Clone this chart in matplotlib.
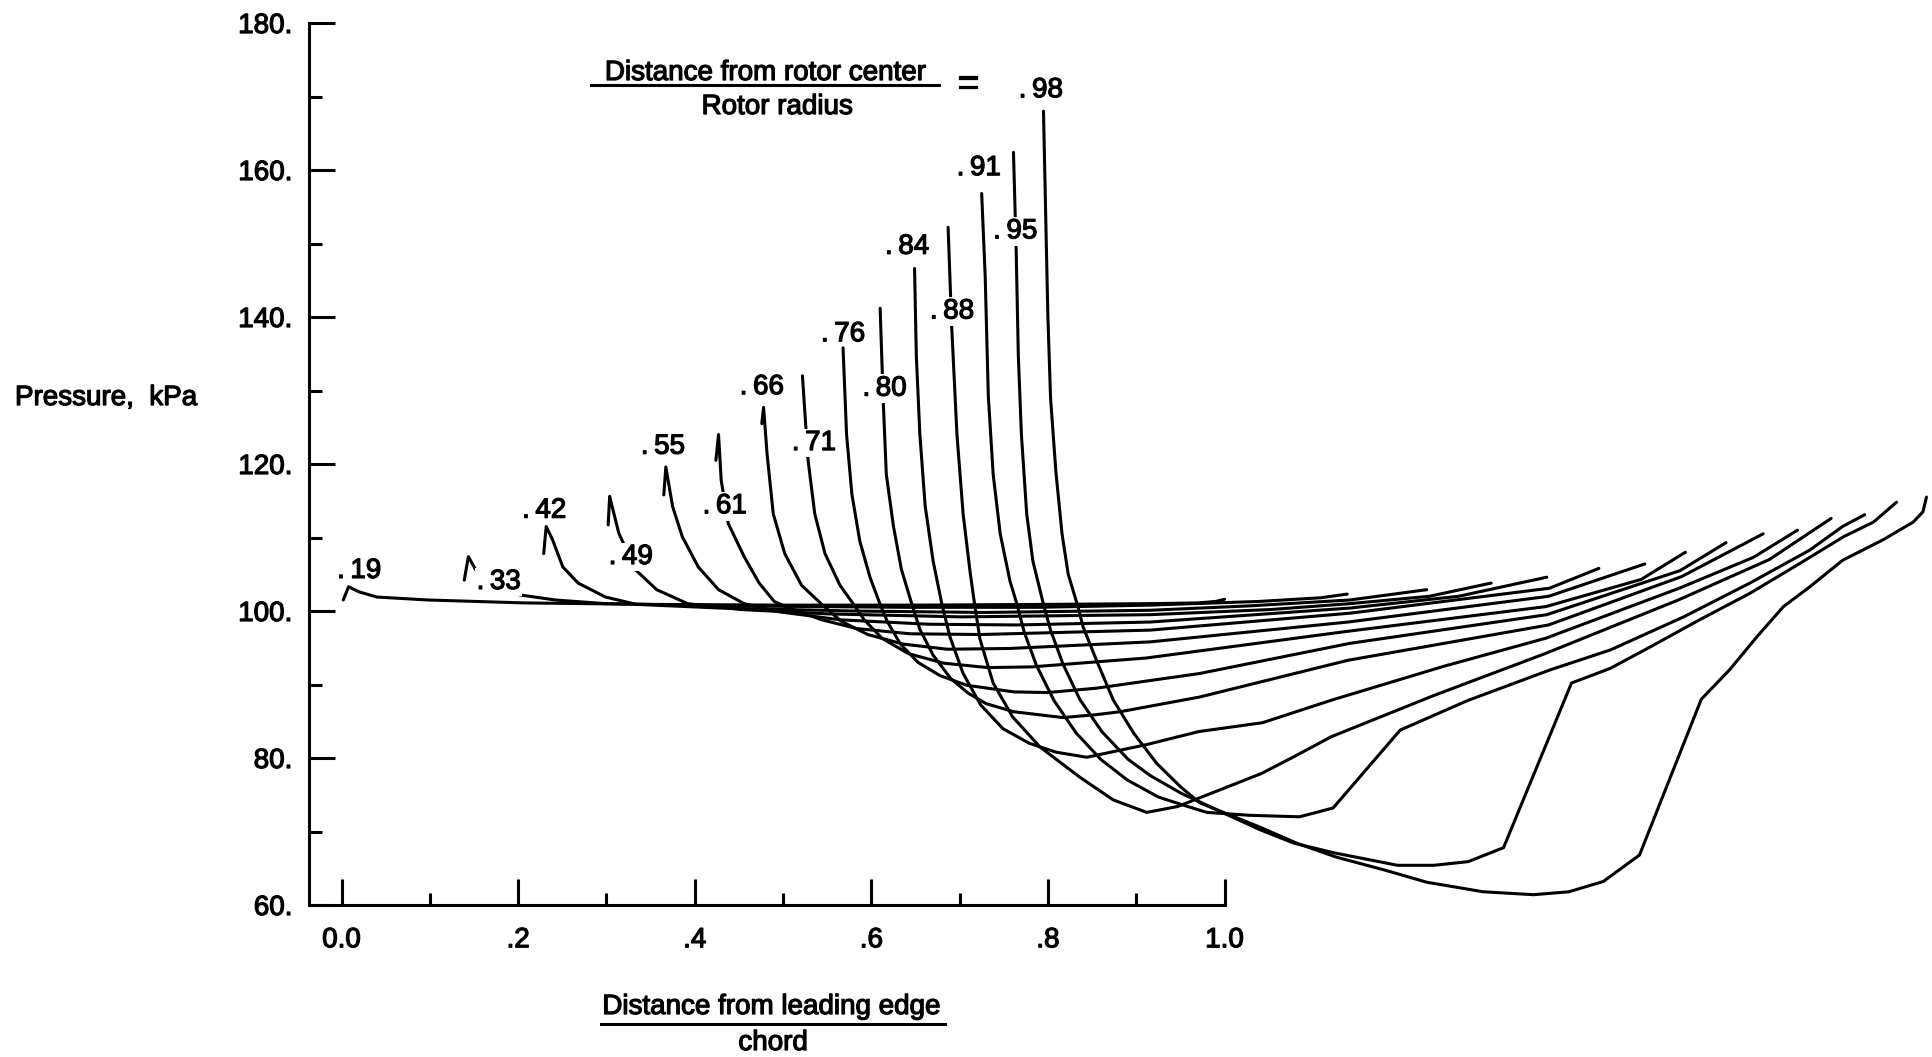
import matplotlib
matplotlib.use("Agg")
import matplotlib.pyplot as plt
import matplotlib.patheffects as pe
from matplotlib.lines import Line2D

plt.rcParams['font.family'] = ['Liberation Sans', 'DejaVu Sans']
heavy = [pe.withStroke(linewidth=0.9, foreground='black')]

# radial stations (distance from rotor center / rotor radius)
stations = ['.19', '.33', '.42', '.49', '.55', '.61', '.66', '.71',
            '.76', '.80', '.84', '.88', '.91', '.95', '.98']
# leading edge of each curve on the shared x axis (curves are staggered)
le_offset = [0.0, 0.139, 0.229, 0.302, 0.365, 0.424, 0.476, 0.522,
             0.568, 0.610, 0.649, 0.687, 0.725, 0.761, 0.795]

# chord position (fraction of chord) and pressure, kPa, per station
c19 = [0.002, 0.008, 0.02, 0.04, 0.0975, 0.207, 0.35, 0.5, 0.65, 0.8, 0.916, 0.97, 0.99, 1.0]
p19 = [101.5, 103.3, 102.6, 101.9, 101.5, 101.1, 100.9, 100.8, 100.8, 100.9, 101.0, 101.1, 101.3, 101.6]

c33 = [0.0, 0.0047, 0.013, 0.035, 0.0625, 0.103, 0.16, 0.3, 0.5, 0.65, 0.777, 0.9, 0.97, 1.0]
p33 = [104.2, 107.4, 105.6, 103.5, 102.2, 101.5, 101.0, 100.7, 100.5, 100.5, 100.8, 101.3, 101.8, 102.3]

c42 = [0.0, 0.0028, 0.01, 0.0216, 0.039, 0.07, 0.105, 0.2, 0.35, 0.5, 0.687, 0.8, 0.913, 1.0]
p42 = [107.8, 111.5, 109.7, 106.0, 103.8, 101.9, 100.9, 100.4, 100.0, 99.8, 100.1, 100.7, 101.5, 102.9]

c49 = [0.0, 0.0017, 0.0064, 0.012, 0.031, 0.055, 0.09, 0.15, 0.25, 0.4, 0.614, 0.75, 0.84, 0.93, 1.0]
p49 = [111.7, 115.6, 113.3, 110.6, 105.6, 102.9, 101.0, 100.2, 99.6, 99.2, 99.5, 100.2, 101.0, 102.0, 103.8]

c55 = [0.0, 0.0023, 0.01, 0.021, 0.039, 0.062, 0.091, 0.13, 0.2, 0.3, 0.4, 0.551, 0.777, 0.9, 1.0]
p55 = [115.8, 119.6, 114.2, 110.1, 106.0, 102.9, 101.0, 99.9, 98.8, 98.2, 98.1, 98.5, 100.4, 102.0, 104.6]

c61 = [0.0, 0.003, 0.006, 0.014, 0.032, 0.049, 0.066, 0.085, 0.12, 0.16, 0.22, 0.3, 0.492, 0.718, 0.944, 1.0]
p61 = [120.5, 124.0, 117.8, 111.9, 107.4, 103.8, 101.3, 100.3, 98.8, 97.6, 96.9, 96.8, 97.4, 99.7, 103.1, 105.8]

c66 = [0.0, 0.002, 0.006, 0.013, 0.026, 0.045, 0.068, 0.09, 0.12, 0.16, 0.21, 0.28, 0.44, 0.664, 0.891, 1.0]
p66 = [125.5, 127.7, 121.3, 113.2, 107.8, 103.5, 100.9, 98.6, 96.8, 95.5, 94.8, 94.9, 95.8, 98.5, 102.0, 106.4]

c71 = [0.0, 0.0064, 0.014, 0.0256, 0.0425, 0.058, 0.07, 0.09, 0.12, 0.16, 0.21, 0.26, 0.389, 0.615, 0.842, 0.95, 1.0]
p71 = [132.0, 120.5, 113.2, 107.8, 103.5, 100.9, 98.8, 96.3, 94.2, 92.9, 92.3, 92.4, 93.6, 97.2, 100.6, 104.3, 108.0]

c76 = [0.0, 0.004, 0.01, 0.019, 0.0305, 0.042, 0.05, 0.065, 0.085, 0.11, 0.14, 0.193, 0.231, 0.287, 0.404, 0.574, 0.797, 0.948, 1.0]
p76 = [135.8, 124.0, 115.9, 109.5, 104.6, 100.9, 98.6, 95.5, 93.0, 91.2, 89.9, 89.0, 88.9, 89.5, 91.5, 95.6, 99.5, 105.5, 109.3]

c80 = [0.0, 0.0036, 0.007, 0.015, 0.024, 0.036, 0.045, 0.06, 0.08, 0.1, 0.12, 0.151, 0.207, 0.245, 0.272, 0.362, 0.53, 0.757, 0.908, 1.0]
p80 = [141.2, 128.3, 118.6, 111.6, 105.7, 100.9, 97.5, 94.0, 90.8, 88.8, 87.4, 86.3, 85.5, 85.9, 86.3, 88.3, 93.3, 98.1, 104.7, 110.5]

c84 = [0.0, 0.002, 0.006, 0.012, 0.021, 0.031, 0.04, 0.055, 0.075, 0.1, 0.13, 0.16, 0.195, 0.262, 0.322, 0.394, 0.473, 0.6, 0.715, 0.866, 0.95, 1.0]
p84 = [146.6, 134.7, 124.0, 114.3, 106.8, 100.9, 96.5, 91.5, 87.2, 84.0, 82.0, 80.8, 80.1, 81.8, 83.6, 84.8, 87.9, 92.5, 96.3, 103.1, 107.3, 111.0]

c88 = [0.0, 0.004, 0.01, 0.017, 0.025, 0.03, 0.036, 0.051, 0.073, 0.104, 0.149, 0.187, 0.225, 0.26, 0.317, 0.355, 0.392, 0.434, 0.55, 0.676, 0.827, 0.93, 1.0]
p88 = [152.2, 138.8, 124.0, 113.2, 105.2, 100.9, 96.2, 90.2, 85.6, 81.5, 77.4, 74.3, 72.6, 73.4, 76.1, 77.9, 80.2, 82.9, 88.5, 94.2, 101.5, 107.0, 112.6]

c91 = [0.0, 0.004, 0.0075, 0.013, 0.021, 0.032, 0.04, 0.048, 0.062, 0.082, 0.107, 0.135, 0.165, 0.2, 0.228, 0.255, 0.304, 0.36, 0.398, 0.474, 0.55, 0.644, 0.712, 0.795, 0.87, 0.938, 0.975, 1.0]
p91 = [156.8, 145.5, 129.3, 118.6, 110.5, 104.1, 100.9, 97.2, 92.6, 87.8, 83.4, 79.8, 77.0, 74.7, 73.6, 72.6, 72.2, 72.0, 73.2, 83.8, 87.8, 92.0, 94.7, 99.2, 103.8, 108.3, 111.5, 113.1]

c95 = [0.0, 0.003, 0.0055, 0.009, 0.015, 0.022, 0.034, 0.042, 0.056, 0.075, 0.1, 0.13, 0.155, 0.19, 0.24, 0.28, 0.318, 0.363, 0.435, 0.476, 0.515, 0.555, 0.632, 0.676, 0.721, 0.777, 0.834, 0.891, 0.94, 0.974, 1.0]
p95 = [162.4, 149.5, 134.7, 124.0, 113.2, 106.8, 100.9, 97.4, 92.8, 88.0, 83.6, 79.8, 77.6, 75.2, 72.4, 70.2, 68.4, 67.1, 65.4, 65.4, 65.9, 67.8, 90.2, 92.2, 95.1, 98.8, 102.4, 106.5, 110.1, 112.1, 114.8]

c98 = [0.0, 0.003, 0.005, 0.008, 0.014, 0.021, 0.028, 0.038, 0.045, 0.06, 0.079, 0.102, 0.128, 0.155, 0.177, 0.245, 0.287, 0.332, 0.385, 0.434, 0.498, 0.555, 0.595, 0.634, 0.675, 0.745, 0.777, 0.808, 0.838, 0.868, 0.905, 0.951, 0.985, 0.996, 1.0]
p98 = [168.0, 151.0, 140.0, 129.0, 119.0, 110.5, 105.0, 101.0, 97.8, 93.3, 87.9, 83.4, 79.3, 76.1, 73.9, 70.6, 68.4, 66.5, 64.8, 63.1, 61.8, 61.4, 61.8, 63.2, 66.8, 88.0, 92.0, 96.5, 100.6, 103.3, 106.9, 109.7, 112.1, 113.5, 115.5]

chords = [c19, c33, c42, c49, c55, c61, c66, c71, c76, c80, c84, c88, c91, c95, c98]
pressures = [p19, p33, p42, p49, p55, p61, p66, p71, p76, p80, p84, p88, p91, p95, p98]

# where the station numbers are written (left edge, baseline)
label_x = [-0.005, 0.153, 0.2045, 0.3026, 0.339, 0.409, 0.451, 0.51,
           0.543, 0.590, 0.6155, 0.6664, 0.6967, 0.738, 0.767]
label_y = [104.5, 103.0, 112.7, 106.4, 121.4, 113.3, 129.5, 121.9,
           136.7, 129.3, 148.6, 139.8, 159.3, 150.7, 169.9]

y_ticks = [60, 80, 100, 120, 140, 160, 180]
y_ticklabels = ['60.', '80.', '100.', '120.', '140.', '160.', '180.']
x_ticks = [0.0, 0.2, 0.4, 0.6, 0.8, 1.0]
x_ticklabels = ['0.0', '.2', '.4', '.6', '.8', '1.0']

W, H = 1933, 1057
fig = plt.figure(figsize=(W / 100, H / 100), dpi=100)
ax = fig.add_axes([309 / W, 1 - 905 / H, 1 - 309 / W, (905 - 23) / H])
ax.set_xlim((309 - 341.5) / 883, (W - 341.5) / 883)
ax.set_ylim(60, 180)

for off, cs, ps in zip(le_offset, chords, pressures):
    ax.plot([off + c for c in cs], ps, color='black', lw=2.2,
            solid_joinstyle='round', solid_capstyle='round',
            clip_on=False, zorder=2)

for i, name in enumerate(stations):
    kw = {}
    if i % 2 == 1:
        # these labels sit on the curve and break it
        kw['bbox'] = dict(facecolor='white', edgecolor='none', pad=1.0)
    t = ax.text(label_x[i], label_y[i], name.replace('.', '.\u2009'), fontsize=20,
                ha='left', va='baseline', zorder=5, **kw)
    t.set_path_effects(heavy)

for s in ['top', 'right']:
    ax.spines[s].set_visible(False)
ax.spines['left'].set_linewidth(2.2)
ax.spines['bottom'].set_linewidth(2.2)
ax.spines['bottom'].set_bounds((309 - 341.5) / 883, 1.0)

ax.set_yticks(y_ticks)
ax.set_yticklabels(y_ticklabels)
ax.set_yticks([70, 90, 110, 130, 150, 170], minor=True)
ax.set_xticks(x_ticks)
ax.set_xticklabels(x_ticklabels)
ax.set_xticks([0.1, 0.3, 0.5, 0.7, 0.9], minor=True)
ax.tick_params(axis='y', which='major', direction='in', length=18.5, width=2.2,
               labelsize=20, pad=12)
ax.tick_params(axis='y', which='minor', direction='in', length=9.5, width=2.2)
ax.tick_params(axis='x', which='major', direction='in', length=19, width=2.2,
               labelsize=20, pad=16)
ax.tick_params(axis='x', which='minor', direction='in', length=9, width=2.2)
for lab in ax.get_xticklabels() + ax.get_yticklabels():
    lab.set_path_effects(heavy)

texts = []
texts.append(fig.text(15 / W, 1 - 405 / H, 'Pressure,  kPa', fontsize=20,
                      ha='left', va='baseline'))

# ratio label at the top
texts.append(fig.text(765 / W, 1 - 80 / H, 'Distance from rotor center', fontsize=20,
                      ha='center', va='baseline'))
fig.add_artist(Line2D([591 / W, 939 / W], [1 - 85 / H, 1 - 85 / H],
                      color='black', lw=2.2))
texts.append(fig.text(777 / W, 1 - 114 / H, 'Rotor radius', fontsize=20,
                      ha='center', va='baseline'))
texts.append(fig.text(968 / W, 1 - 85 / H, '=', fontsize=28, ha='center', va='center'))

# x axis label as a fraction
texts.append(fig.text(771 / W, 1 - 1014 / H, 'Distance from leading edge', fontsize=20,
                      ha='center', va='baseline'))
fig.add_artist(Line2D([601 / W, 945 / W], [1 - 1024 / H, 1 - 1024 / H],
                      color='black', lw=2.2))
texts.append(fig.text(773 / W, 1 - 1050 / H, 'chord', fontsize=20,
                      ha='center', va='baseline'))
for t in texts:
    t.set_path_effects(heavy)

fig.savefig('out.png', dpi=100)
